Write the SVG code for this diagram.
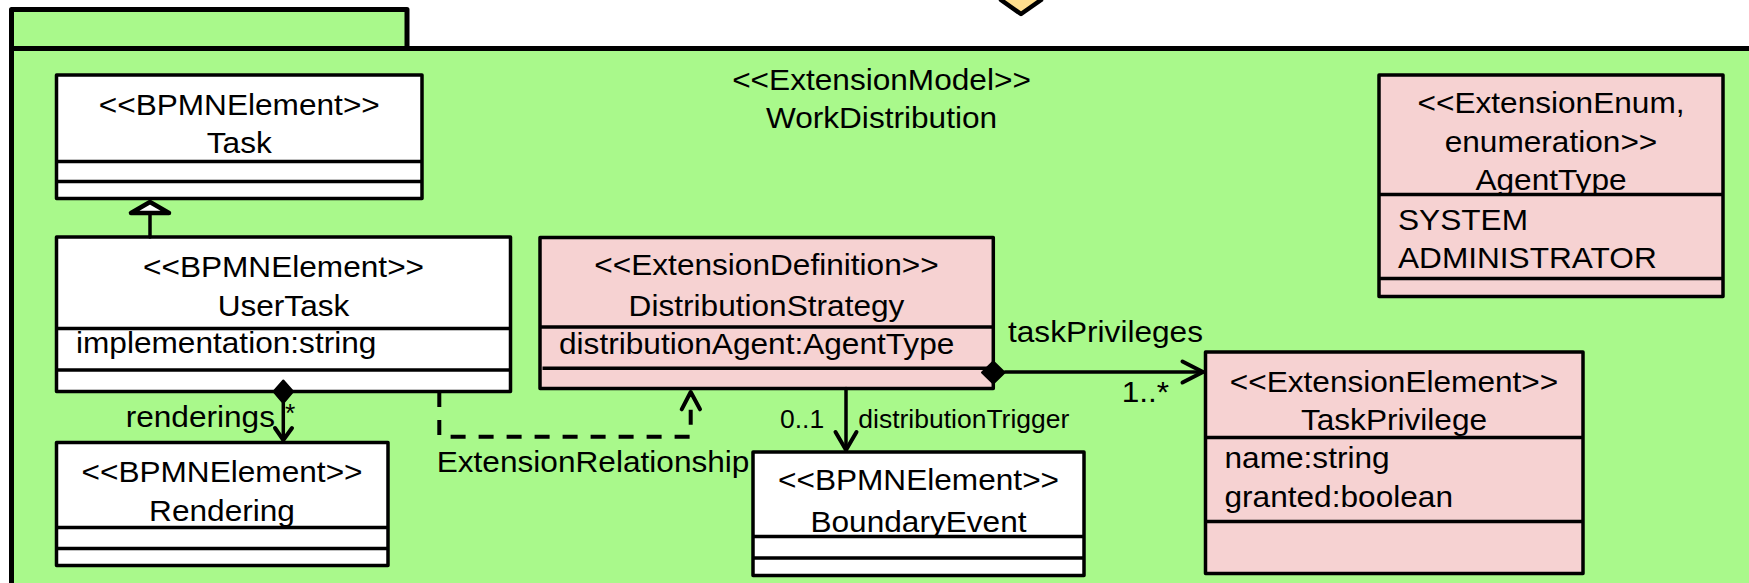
<svg xmlns="http://www.w3.org/2000/svg" width="1749" height="583" viewBox="0 0 1749 583">
<style>
.pkg{fill:#A9F98B;stroke:#000;stroke-width:5;stroke-linejoin:round}
.box{stroke:#000;stroke-width:3.5;stroke-linejoin:round}
.w{fill:#FFFFFF}
.p{fill:#F6D2D2}
.sep{stroke:#000;stroke-width:3.5}
text{font-family:"Liberation Sans",Arial,Helvetica,sans-serif;fill:#000}
.b{font-size:29px}
.s{font-size:25px}
.m{text-anchor:middle}
.e{text-anchor:end}
.ln{fill:none;stroke:#000;stroke-width:3.5;stroke-linejoin:round;stroke-linecap:round}
.ah{fill:none;stroke:#000;stroke-width:4;stroke-linejoin:round;stroke-linecap:round}
.dash{fill:none;stroke:#000;stroke-width:4;stroke-dasharray:15 13}
.dia{fill:#000;stroke:#000;stroke-width:2;stroke-linejoin:round}
</style>
<rect x="0" y="0" width="1749" height="583" fill="#FFFFFF"/>
<polygon points="1001,0 1021,14 1041,0 1021,-14" fill="#FFDF8E" stroke="#000" stroke-width="4.5" stroke-linejoin="round"/>
<g id="package">
<rect class="pkg" x="11.5" y="48.5" width="1760" height="560"/>
<rect class="pkg" x="11.5" y="9.5" width="395.5" height="39"/>
<text class="b m" transform="translate(881.5 90) scale(1.09 1)">&lt;&lt;ExtensionModel&gt;&gt;</text>
<text class="b m" transform="translate(881.5 127.7) scale(1.09 1)">WorkDistribution</text>
</g>
<g id="Task">
<rect class="box w" x="56.5" y="75" width="365.5" height="123.5"/>
<line class="sep" x1="56.5" y1="161.5" x2="422" y2="161.5"/>
<line class="sep" x1="56.5" y1="181.5" x2="422" y2="181.5"/>
<text class="b m" transform="translate(239.25 115) scale(1.09 1)">&lt;&lt;BPMNElement&gt;&gt;</text>
<text class="b m" transform="translate(239.25 153) scale(1.09 1)">Task</text>
</g>
<g id="UserTask">
<rect class="box w" x="56.5" y="237" width="454" height="154.5"/>
<line class="sep" x1="56.5" y1="328.5" x2="510.5" y2="328.5"/>
<line class="sep" x1="56.5" y1="370" x2="510.5" y2="370"/>
<text class="b m" transform="translate(283.5 277) scale(1.09 1)">&lt;&lt;BPMNElement&gt;&gt;</text>
<text class="b m" transform="translate(283.5 316) scale(1.09 1)">UserTask</text>
<text class="b" transform="translate(76 353) scale(1.09 1)">implementation:string</text>
</g>
<g id="Rendering">
<rect class="box w" x="56.5" y="442.5" width="331.5" height="123"/>
<line class="sep" x1="56.5" y1="527.5" x2="388" y2="527.5"/>
<line class="sep" x1="56.5" y1="548.5" x2="388" y2="548.5"/>
<text class="b m" transform="translate(222 481.7) scale(1.09 1)">&lt;&lt;BPMNElement&gt;&gt;</text>
<text class="b m" transform="translate(222 520.7) scale(1.09 1)">Rendering</text>
</g>
<g id="DistributionStrategy">
<rect class="box p" x="540" y="237.5" width="453.3" height="151"/>
<line class="sep" x1="540" y1="327" x2="993.3" y2="327"/>
<line class="sep" x1="542.5" y1="368.3" x2="993.3" y2="368.3"/>
<text class="b m" transform="translate(766.5 275) scale(1.09 1)">&lt;&lt;ExtensionDefinition&gt;&gt;</text>
<text class="b m" transform="translate(766.5 315.7) scale(1.09 1)">DistributionStrategy</text>
<text class="b" transform="translate(559 354) scale(1.09 1)">distributionAgent:AgentType</text>
</g>
<g id="BoundaryEvent">
<rect class="box w" x="753" y="452" width="331" height="123.5"/>
<line class="sep" x1="753" y1="536.5" x2="1084" y2="536.5"/>
<line class="sep" x1="753" y1="558" x2="1084" y2="558"/>
<text class="b m" transform="translate(918.5 490) scale(1.09 1)">&lt;&lt;BPMNElement&gt;&gt;</text>
<text class="b m" transform="translate(918.5 531.7) scale(1.09 1)">BoundaryEvent</text>
</g>
<g id="TaskPrivilege">
<rect class="box p" x="1205.5" y="352" width="377.5" height="221.5"/>
<line class="sep" x1="1205.5" y1="437.5" x2="1583" y2="437.5"/>
<line class="sep" x1="1205.5" y1="521.5" x2="1583" y2="521.5"/>
<text class="b m" transform="translate(1394 391.7) scale(1.09 1)">&lt;&lt;ExtensionElement&gt;&gt;</text>
<text class="b m" transform="translate(1394 430) scale(1.09 1)">TaskPrivilege</text>
<text class="b" transform="translate(1224.5 468) scale(1.09 1)">name:string</text>
<text class="b" transform="translate(1224.5 506.7) scale(1.09 1)">granted:boolean</text>
</g>
<g id="AgentType">
<rect class="box p" x="1379" y="75" width="344" height="221.5"/>
<line class="sep" x1="1379" y1="194.5" x2="1723" y2="194.5"/>
<line class="sep" x1="1379" y1="278.5" x2="1723" y2="278.5"/>
<text class="b m" transform="translate(1551 113.3) scale(1.09 1)">&lt;&lt;ExtensionEnum,</text>
<text class="b m" transform="translate(1551 151.7) scale(1.09 1)">enumeration&gt;&gt;</text>
<text class="b m" transform="translate(1551 190) scale(1.09 1)">AgentType</text>
<text class="b" transform="translate(1398 230) scale(1.09 1)">SYSTEM</text>
<text class="b" transform="translate(1398 268.3) scale(1.09 1)">ADMINISTRATOR</text>
</g>
<g id="connectors">
<line class="ln" x1="150" y1="213" x2="150" y2="237"/>
<polygon points="150,202 131,213 169,213" fill="#FFFFFF" stroke="#000" stroke-width="4.5" stroke-linejoin="round"/>
<line class="ln" x1="283.3" y1="403" x2="283.3" y2="440"/>
<polygon class="dia" points="283.3,380.5 293,391.5 283.3,403 273.6,391.5"/>
<polyline class="ah" points="275,428 283.3,440 292,428"/>
<line class="ln" x1="1005" y1="372" x2="1203" y2="372"/>
<polygon class="dia" points="982,372.5 993.3,361.5 1004.6,372.5 993.3,383.5"/>
<polyline class="ah" points="1182.5,361.5 1203,372 1182.5,382.5"/>
<line class="ln" x1="846" y1="388.5" x2="846" y2="449"/>
<polyline class="ah" points="835.5,432 846,450 856.5,432"/>
<path class="dash" d="M439.3,392 V436.7 H690.7 V394"/>
<polyline class="ah" points="681.7,409.3 690.7,392 700,409.3"/>
<text class="b e" transform="translate(275 427) scale(1.09 1)">renderings</text>
<text class="s" transform="translate(285 422) scale(1.06 1)">*</text>
<text class="b" transform="translate(436.7 472.3) scale(1.09 1)">ExtensionRelationship</text>
<text class="s" transform="translate(780 427.7) scale(1.06 1)">0..1</text>
<text class="s" transform="translate(858.3 427.7) scale(1.06 1)">distributionTrigger</text>
<text class="b" transform="translate(1008 341.7) scale(1.09 1)">taskPrivileges</text>
<text class="b" transform="translate(1121.7 401.7) scale(1.09 1)">1..*</text>
</g>
</svg>
